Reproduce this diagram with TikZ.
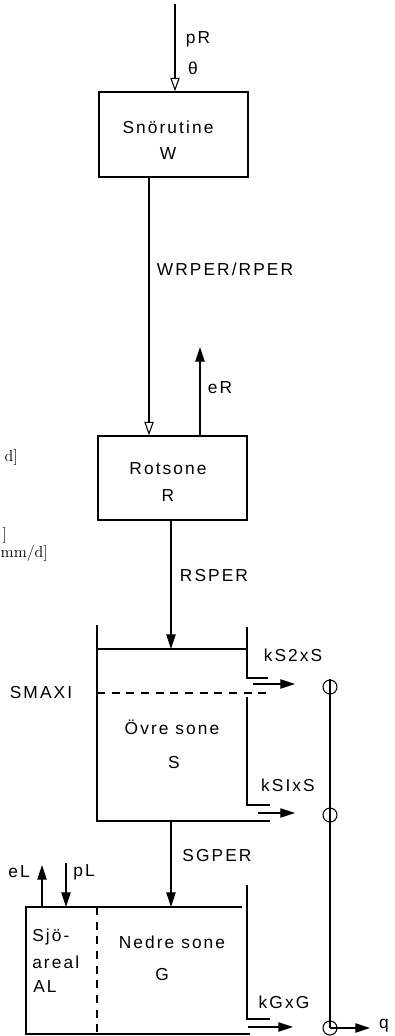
\documentclass[tikz,border=0pt]{standalone}
\usepackage{fontspec}
\newfontfamily\labfont[LetterSpace=12]{Liberation Sans}
\usetikzlibrary{arrows.meta}
\begin{document}
\begin{tikzpicture}[x=0.75pt,y=-0.75pt,
  lab/.style={font=\labfont\fontsize{13}{15}\selectfont, inner sep=0pt},
  frag/.style={font=\fontsize{12}{14}\selectfont, inner sep=0pt},
  box/.style={draw, line width=1.2pt, inner sep=0pt},
  thin/.style={line width=0.8pt},
  wall/.style={line width=1.2pt},
  dashwall/.style={line width=1.2pt, dash pattern=on 6pt off 5pt},
  openhead/.style={thin, -{Triangle[open, length=10pt, width=7pt]}},
  fillhead/.style={thin, -{Triangle[length=11pt, width=7pt]}},
  junction/.style={draw, circle, line width=0.8pt, minimum size=10.5pt, inner sep=0pt}
]
\useasboundingbox (0,0) rectangle (394,1036);

% cut-off fragments on the left margin
\node[frag, anchor=east] (f1) at (18,457) {d]};
\node[frag, anchor=east] (f2) at (7,535) {]};
\node[frag, anchor=east] (f3) at (48,553) {mm/d]};

% Snow routine
\coordinate (pin) at (175,4);
\node[box, minimum width=111.75pt, minimum height=63.75pt] (W) at (173.5,134.5) {};
\node[lab] (Wt1) at (168,127) {Snörutine};
\node[lab] (Wt2) at (168,154) {W};
\node[lab] (pR) at (198,39) {pR};
\node[lab] (th) at (193,68) {θ};
\draw[openhead] (pin) -- (pin |- W.north);

% Root zone
\node[box, minimum width=111.75pt, minimum height=63pt] (R) at (172.5,478) {};
\node[lab] (Rt1) at (168,469) {Rotsone};
\node[lab] (Rt2) at (168,496) {R};
\coordinate (wr) at (149,0);
\draw[openhead] (wr |- W.south) -- (wr |- R.north);
\node[lab] (wrper) at (225,269) {WRPER/RPER};
\coordinate (er) at (200,347);
\draw[fillhead] (er |- R.north) -- (er);
\node[lab] (eR) at (220,388) {eR};

% Upper zone
\coordinate (Stop) at (171,649);
\draw[fillhead] (Stop |- R.south) -- (Stop);
\node[lab] (rsper) at (214,576) {RSPER};
\draw[wall] (97,625) -- (97,821) -- (270,821);
\draw[wall] (97,649) -- (247,649);
\draw[wall] (247,627) -- (247,678) -- (268,678);
\draw[dashwall] (97,693) -- (270,693);
\draw[wall] (247,697) -- (247,805) -- (270,805);
\node[lab] (smax) at (41,693) {SMAXI};
\node[lab] (St1) at (172,727) {Övre sone};
\node[lab] (St2) at (174,763) {S};
\node[lab] (k2) at (293,655) {kS2xS};
\node[lab] (k1) at (288,785) {kSIxS};

% junctions
\node[junction] (c1) at (330,687) {};
\node[junction] (c2) at (330,815) {};
\node[junction] (c3) at (330,1028) {};
\draw[thin] (c1.north) -- (c3.center);
\coordinate (qend) at (370,1028);
\draw[fillhead] (c3.center) -- (qend);
\node[lab] (q) at (384,1026) {q};

\coordinate (o2a) at (253,684);
\coordinate (o2b) at (295,684);
\draw[fillhead] (o2a) -- (o2b);
\coordinate (o1a) at (258,813);
\coordinate (o1b) at (295,813);
\draw[fillhead] (o1a) -- (o1b);

% Lower zone
\coordinate (Gtop) at (171,907);
\draw[fillhead] (171,821) -- (Gtop);
\node[lab] (sgper) at (217,856) {SGPER};
\draw[wall] (242,907) -- (26,907) -- (26,1034) -- (250,1034);
\draw[dashwall] (97,907) -- (97,1034);
\draw[wall] (247,885) -- (247,1019) -- (270,1019);
\coordinate (oga) at (248,1027);
\coordinate (ogb) at (293,1027);
\draw[fillhead] (oga) -- (ogb);
\node[lab] (kg) at (284,1002) {kGxG};

\coordinate (eLb) at (42,907);
\coordinate (eLt) at (42,865);
\draw[fillhead] (eLb) -- (eLt);
\node[lab] (eL) at (19,872) {eL};
\coordinate (pLt) at (66,863);
\coordinate (pLb) at (66,907);
\draw[fillhead] (pLt) -- (pLb);
\node[lab] (pL) at (84,872) {pL};

\node[lab, anchor=west] (a1) at (32,937) {Sjö-};
\node[lab, anchor=west] (a2) at (32,962) {areal};
\node[lab, anchor=west] (a3) at (33,987) {AL};
\node[lab] (Gt1) at (172,942) {Nedre sone};
\node[lab] (Gt2) at (162,975) {G};
\end{tikzpicture}
\end{document}
